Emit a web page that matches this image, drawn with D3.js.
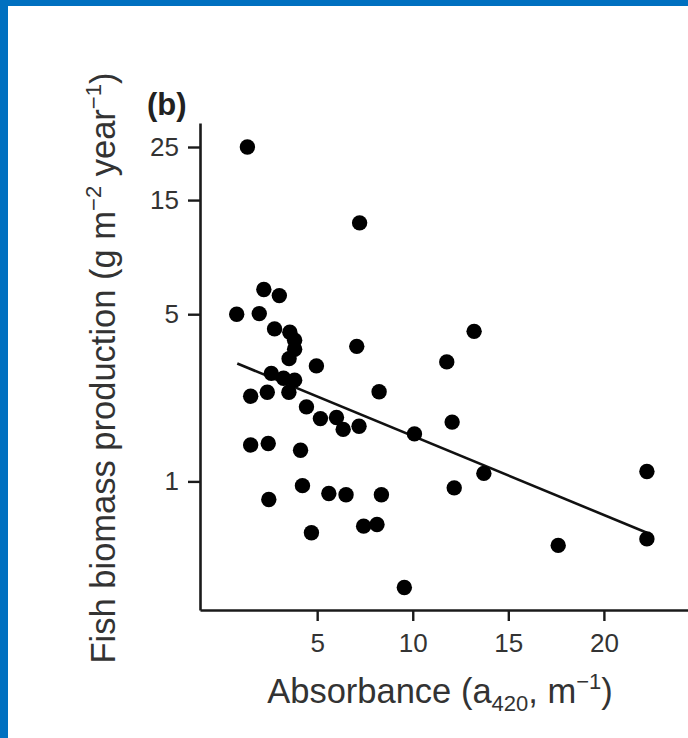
<!DOCTYPE html>
<html>
<head>
<meta charset="utf-8">
<script src="https://cdn.jsdelivr.net/npm/d3@7"></script>
<style>
    html, body { margin: 0; padding: 0; background: #fff; }
    svg { display: block; font-family: "Liberation Sans", Arial, sans-serif; }
</style>
</head>
<body>
<script>
// absorbance a420 (m^-1) of each lake
const absorbance = [
    1.35, 7.22, 2.21, 3.02, 0.79, 1.97, 2.77, 3.57, 3.82, 3.82,
    3.53, 7.07, 13.21, 11.78, 4.96, 2.60, 3.24, 3.82, 3.52, 2.39,
    1.52, 8.24, 4.44, 5.17, 6.01, 6.36, 7.19, 10.09, 12.06, 1.52,
    2.44, 4.13, 4.23, 2.47, 5.61, 6.51, 8.36, 12.17, 13.72, 7.43,
    8.13, 4.70, 9.56, 17.61, 22.25, 22.25
];
// fish biomass production (g m^-2 year^-1)
const production = [
    25.0, 12.05, 6.34, 5.98, 5.00, 5.03, 4.34, 4.20, 3.89, 3.57,
    3.26, 3.67, 4.24, 3.16, 3.04, 2.83, 2.70, 2.65, 2.36, 2.36,
    2.27, 2.37, 2.05, 1.83, 1.85, 1.65, 1.70, 1.58, 1.77, 1.42,
    1.44, 1.35, 0.96, 0.84, 0.89, 0.88, 0.88, 0.94, 1.08, 0.65,
    0.66, 0.61, 0.36, 0.54, 0.575, 1.10
];
// fitted line end points
const fitX = [0.82, 22.25];
const fitY = [3.11, 0.61];

const xTicks = [5, 10, 15, 20];
const yTicks = [1, 5, 15, 25];

const width = 688;
const height = 738;

const svg = d3.select("body").append("svg")
    .attr("width", width)
    .attr("height", height);

svg.append("rect")
    .attr("width", width)
    .attr("height", height)
    .attr("fill", "#fff");

// blue frame of the page
svg.append("rect").attr("x", 0).attr("y", 0).attr("width", width).attr("height", 6).attr("fill", "#0070c0");
svg.append("rect").attr("x", 0).attr("y", 0).attr("width", 8).attr("height", height).attr("fill", "#0070c0");

const x = d3.scaleLinear()
    .domain([-1.13, 24.4])
    .range([200, 688]);

const y = d3.scaleLog()
    .domain([0.29, 31.5])
    .range([610, 123]);

// axes
const xAxis = svg.append("g")
    .attr("transform", "translate(0,610)")
    .call(d3.axisBottom(x).tickValues(xTicks).tickSize(11).tickPadding(13).tickSizeOuter(0));

const yAxis = svg.append("g")
    .attr("transform", "translate(200,0)")
    .call(d3.axisLeft(y).tickValues(yTicks).tickFormat(d3.format("d")).tickSize(12).tickPadding(9).tickSizeOuter(0));

[xAxis, yAxis].forEach(function(g) {
    g.select(".domain").attr("stroke", "#1a1a1a").attr("stroke-width", 2.6);
    g.selectAll(".tick line").attr("stroke", "#1a1a1a").attr("stroke-width", 2.4);
    g.selectAll(".tick text")
        .attr("fill", "#333")
        .style("font-size", "26px")
        .style("font-family", "Liberation Sans, Arial, sans-serif");
});

// regression line
svg.append("line")
    .attr("x1", x(fitX[0])).attr("y1", y(fitY[0]))
    .attr("x2", x(fitX[1])).attr("y2", y(fitY[1]))
    .attr("stroke", "#111")
    .attr("stroke-width", 2.6);

// points
svg.append("g")
    .selectAll("circle")
    .data(absorbance)
    .enter().append("circle")
    .attr("cx", function(d) { return x(d); })
    .attr("cy", function(d, i) { return y(production[i]); })
    .attr("r", 7.7)
    .attr("fill", "#000");

// panel label
svg.append("text")
    .attr("x", 147)
    .attr("y", 115)
    .attr("fill", "#222")
    .style("font-size", "31px")
    .style("font-weight", "bold")
    .text("(b)");

// x title
const xTitle = svg.append("text")
    .attr("x", 440)
    .attr("y", 703)
    .attr("text-anchor", "middle")
    .attr("fill", "#333")
    .style("font-size", "34.5px");
xTitle.append("tspan").text("Absorbance (a");
xTitle.append("tspan").attr("dy", 8).style("font-size", "22px").text("420");
xTitle.append("tspan").attr("dy", -8).text(", m");
xTitle.append("tspan").attr("dy", -14).style("font-size", "22px").text("\u22121");
xTitle.append("tspan").attr("dy", 14).text(")");

// y title
const yTitle = svg.append("text")
    .attr("transform", "translate(115,368) rotate(-90)")
    .attr("text-anchor", "middle")
    .attr("fill", "#333")
    .style("font-size", "34.5px");
yTitle.append("tspan").text("Fish biomass production (g m");
yTitle.append("tspan").attr("dy", -14).style("font-size", "22px").text("\u22122");
yTitle.append("tspan").attr("dy", 14).text(" year");
yTitle.append("tspan").attr("dy", -14).style("font-size", "22px").text("\u22121");
yTitle.append("tspan").attr("dy", 14).text(")");
</script>
</body>
</html>
